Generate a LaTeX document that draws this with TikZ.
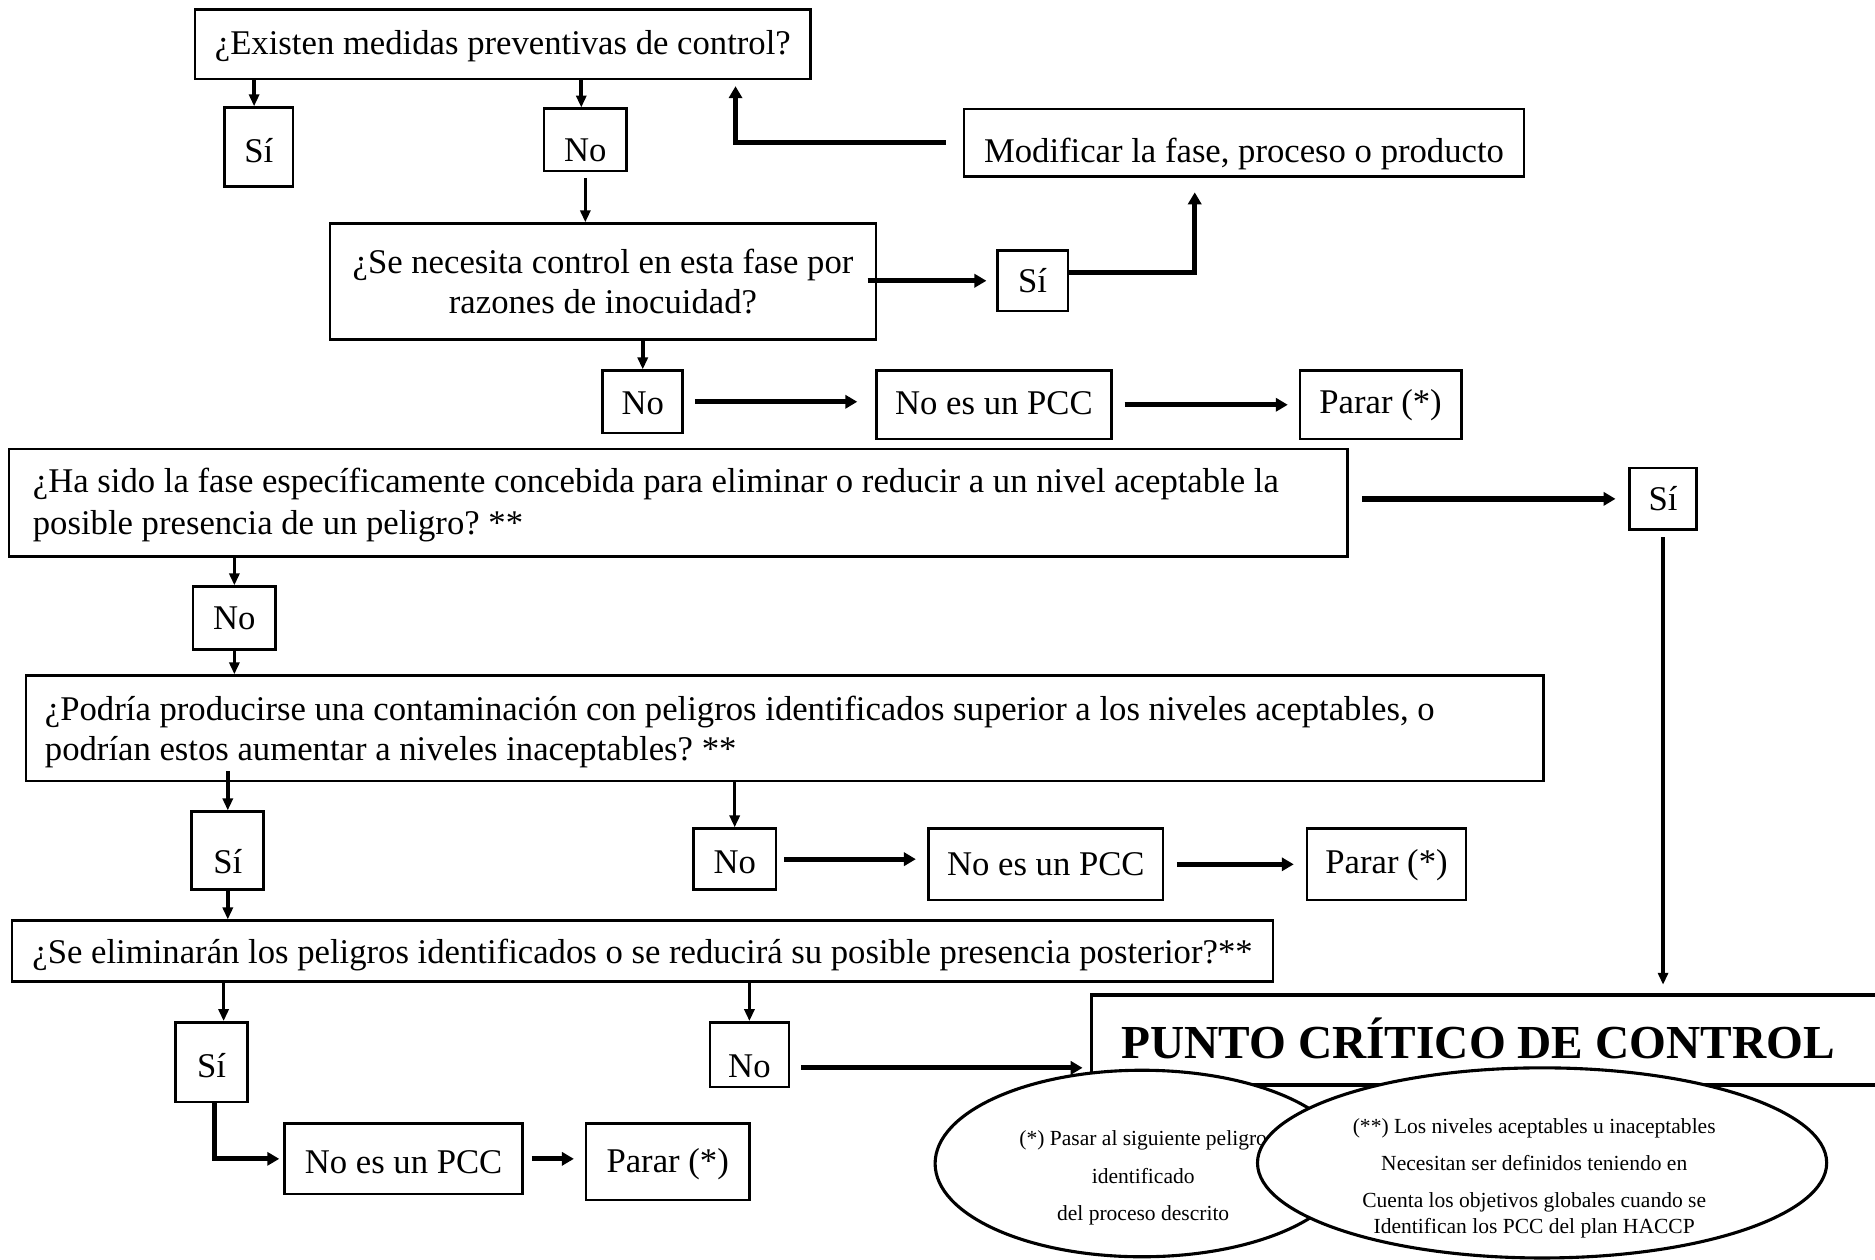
\documentclass[tikz,border=0pt]{standalone}
\usepackage{fontspec}
\setmainfont{Liberation Serif}
\usetikzlibrary{arrows.meta,shapes.geometric}
\newcommand{\mainfs}{\fontsize{14.5}{17}\selectfont\frenchspacing}
\newcommand{\smallfs}{\fontsize{9}{10.5}\selectfont\frenchspacing}
\newcommand{\bigfs}{\fontsize{19.8}{24}\selectfont\bfseries}
\newcommand{\dn}[2]{\raisebox{-#1}[\height][\depth]{#2}}
\begin{document}
\begin{tikzpicture}[x=0.5pt,y=-0.5pt,
  box/.style={draw, line width=1.1pt, inner sep=0pt, font=\mainfs, align=center, fill=white},
  sz/.style 2 args={minimum width=#1*0.5pt, minimum height=#2*0.5pt},
  thinarr/.style={line width=1.5pt, -{Triangle[length=5pt,width=4.2pt]}},
  thickarr/.style={line width=2.2pt, -{Triangle[length=5pt,width=5.5pt]}},
  oval/.style={draw, ellipse, line width=1.3pt, fill=white, inner sep=0pt},
]
\useasboundingbox (0,0) rectangle (1568,1053);
\clip (0,0) rectangle (1568,1053);

% boxes
\node[box, sz={515}{58}] (A) at (420.5,37) {\dn{1pt}{¿Existen medidas preventivas de control?}};
\node[box, sz={57}{66}] (si1) at (216.5,123) {\dn{1.5pt}{Sí}};
\node[box, sz={69}{52}] (no1) at (489.5,117) {\dn{4.5pt}{No}};
\node[box, sz={456.5}{97}] (B) at (504.25,235.5) {¿Se necesita control en esta fase por\\razones de inocuidad?};
\node[box, sz={59}{50.4}] (si2) at (863.5,234.8) {Sí};
\node[box, sz={468.6}{56.7}] (mod) at (1040.3,119.4) {\dn{4.5pt}{Modificar la fase, proceso o producto}};
\node[box, sz={67}{52}] (no3) at (537.5,336) {\dn{0.5pt}{No}};
\node[box, sz={196.4}{57}] (pcc1) at (831.2,338.5) {\dn{-0.5pt}{No es un PCC}};
\node[box, sz={135}{57}] (parar1) at (1154.5,338.5) {Parar (*)};
\node[box, sz={1119.5}{90}, text width=539.75pt, align=flush left, inner xsep=10pt, font=\fontsize{14.5}{17.5}\selectfont\frenchspacing] (C) at (567.25,420.5)
  {\dn{1pt}{¿Ha sido la fase específicamente concebida para eliminar o reducir a un nivel aceptable la}\\\dn{1pt}{posible presencia de un peligro? **}};
\node[box, sz={56.1}{51.6}] (si3) at (1390.75,417.2) {Sí};
\node[box, sz={69.2}{52.4}] (no4) at (196,516.8) {No};
\node[box, sz={1269.4}{88}, text width=618.7pt, align=flush left, inner xsep=8pt] (D) at (656.3,609)
  {\dn{1.5pt}{¿Podría producirse una contaminación con peligros identificados superior a los niveles aceptables, o}\\\dn{1.5pt}{podrían estos aumentar a niveles inaceptables? **}};
\node[box, sz={60.2}{65.2}] (si5) at (190.5,711.4) {\dn{4.5pt}{Sí}};
\node[box, sz={68.8}{51}] (no5) at (614.4,718.5) {\dn{1.5pt}{No}};
\node[box, sz={196}{59.6}] (pcc2) at (874.6,722.8) {No es un PCC};
\node[box, sz={133}{59.6}] (parar2) at (1159.5,722.8) {\dn{0.5pt}{Parar (*)}};
\node[box, sz={1054.6}{51}] (E) at (537.3,795.5) {\dn{1.5pt}{¿Se eliminarán los peligros identificados o se reducirá su posible presencia posterior?**}};
\node[box, sz={60}{66.6}] (si6) at (177,888.3) {\dn{1.5pt}{Sí}};
\node[box, sz={66.2}{54}] (no6) at (626.7,882) {\dn{5pt}{No}};
\node[box, sz={199}{58.8}] (pcc3) at (337.5,969.1) {\dn{1.5pt}{No es un PCC}};
\node[box, sz={136.7}{63.8}] (parar3) at (558.35,971.6) {\dn{1pt}{Parar (*)}};
\node[box, line width=1.5pt, sz={687.2}{75.4}, text width=318.6pt, align=flush left, inner xsep=12.5pt, font=\bigfs] (punto) at (1256.4,869.7)
  {\dn{-0.5pt}{PUNTO CRÍTICO DE CONTROL}};

% connectors
\coordinate (s1) at ([xshift=-2pt]si1.north);
\draw[thinarr] (s1 |- A.south) -- (s1);
\coordinate (o1) at ([xshift=-1.7pt]no1.north);
\draw[thinarr] (o1 |- A.south) -- (o1);
\draw[thinarr, shorten <=2.5pt] (no1.south) -- (no1.south |- B.north);
\draw[thickarr, shorten <=-4pt, shorten >=4pt] (B.east |- si2.west) -- (si2.west);
\draw[thickarr, shorten >=6pt] ([yshift=3.6pt]si2.east) -| ([xshift=-20.6pt]mod.south);
\draw[thickarr, shorten <=7pt, shorten >=2.5pt] (mod.west) -| ([xshift=-32pt]A.south east);
\draw[thinarr] (B.south -| no3.north) -- (no3.north);
\draw[thickarr, shorten <=4.5pt, shorten >=7.5pt] (no3.east) -- (no3.east -| pcc1.west);
\draw[thickarr, shorten <=5pt, shorten >=4.5pt] (pcc1.east) -- (parar1.west);
\draw[thickarr, shorten <=5.5pt, shorten >=5.3pt] (C.east |- si3.west) -- (si3.west);
\draw[thinarr, shorten <=2.5pt, shorten >=3.5pt] (si3.south) -- (si3.south |- punto.north);
\draw[thinarr] (C.south -| no4.north) -- (no4.north);
\draw[thinarr] (no4.south) -- (no4.south |- D.north);
\draw[thinarr, shorten <=-4.5pt] (D.south -| si5.north) -- (si5.north);
\draw[thinarr] (D.south -| no5.north) -- (no5.north);
\draw[thickarr, shorten <=3pt, shorten >=4.8pt] (no5.east) -- (no5.east -| pcc2.west);
\draw[thickarr, shorten <=5.2pt, shorten >=5pt] (pcc2.east) -- (pcc2.east -| parar2.west);
\draw[thinarr] (si5.south) -- (si5.south |- E.north);
\coordinate (e6) at ([xshift=5pt]si6.north);
\draw[thinarr] (e6 |- E.south) -- (e6);
\draw[thinarr] (E.south -| no6.north) -- (no6.north);
\coordinate (n6) at ([yshift=-5.5pt]no6.east);
\draw[thickarr, shorten <=4.6pt, shorten >=3pt] (n6) -- (n6 -| punto.west);
\draw[thickarr, shorten >=1.7pt] ([xshift=1.2pt]si6.south) |- (pcc3.west);
\draw[thickarr, shorten <=3.3pt, shorten >=4.5pt] (pcc3.east) -- (pcc3.east -| parar3.west);

% notes
\node[oval, sz={346}{156}] (ell1) at (955,973) {};
\node[font=\smallfs, align=center, inner sep=0pt] (t1) at (956,985)
  {(*) Pasar al siguiente peligro\\[5pt]identificado\\[5pt]del proceso descrito};
\node[oval, sz={476}{159}] (ell2) at (1289.6,972.5) {};
\node[font=\smallfs, align=center, inner sep=0pt] (t2) at (1283,985)
  {(**) Los niveles aceptables u inaceptables\\[5.3pt]Necesitan ser definidos teniendo en\\[5pt]Cuenta los objetivos globales cuando se\\Identifican los PCC del plan HACCP};
\end{tikzpicture}
\end{document}
